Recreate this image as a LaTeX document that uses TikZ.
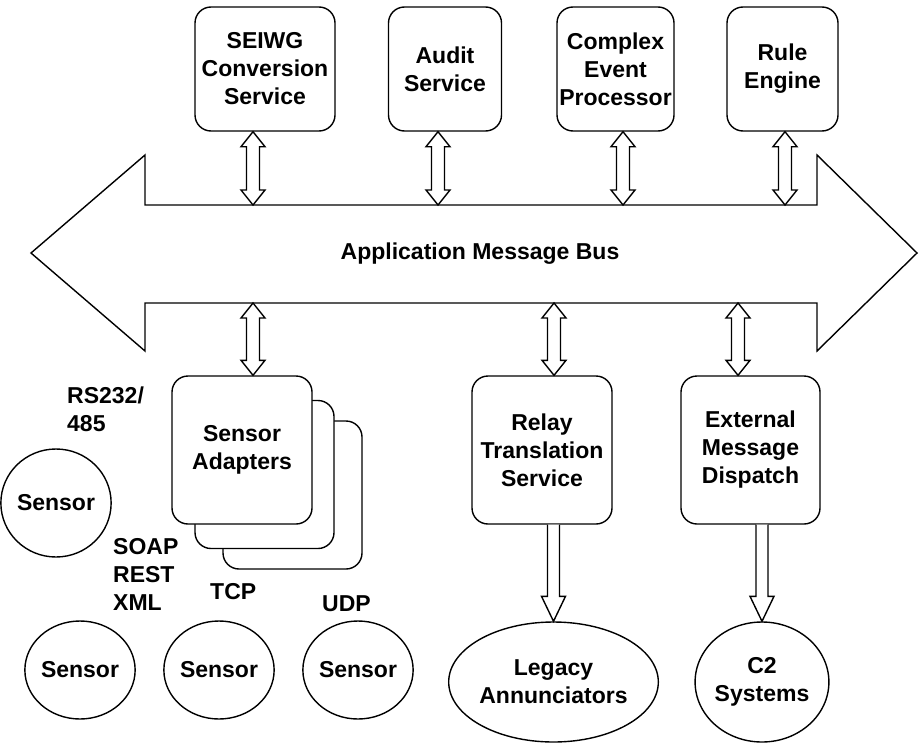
\documentclass[tikz,border=0pt]{standalone}
\usepackage{fontspec}
\setmainfont{Liberation Sans}
\usetikzlibrary{calc,shapes.geometric}
\begin{document}
\begin{tikzpicture}[x=1pt,y=-1pt,
  every node/.style={font=\fontsize{23}{28}\selectfont\bfseries},
  lw/.style={line width=1.4pt},
  box/.style={lw, draw, rounded corners=16pt, fill=white, align=center, inner sep=0pt},
  sensor/.style={lw, draw, ellipse, fill=white, align=center, inner sep=0pt},
  lbl/.style={anchor=west, align=left, inner sep=0pt},
  dblarrow/.style={lw, draw, fill=white, line join=miter, to path={
    let \p1=(\tikztostart), \p2=(\tikztotarget) in
    (\x1,\y1) -- ({\x1+12pt},{\y1-15pt}) -- ({\x1+6.5pt},{\y1-15pt})
    -- ({\x1+6.5pt},{\y2+15pt}) -- ({\x1+12pt},{\y2+15pt}) -- (\x1,\y2)
    -- ({\x1-12pt},{\y2+15pt}) -- ({\x1-6.5pt},{\y2+15pt})
    -- ({\x1-6.5pt},{\y1-15pt}) -- ({\x1-12pt},{\y1-15pt}) -- cycle}},
  sglarrow/.style={lw, draw, fill=white, line join=miter, to path={
    let \p1=(\tikztostart), \p2=(\tikztotarget) in
    ({\x1-6pt},\y1) -- ({\x1-6pt},{\y2+25pt}) -- ({\x1-12pt},{\y2+25pt})
    -- (\x1,\y2) -- ({\x1+12pt},{\y2+25pt}) -- ({\x1+6pt},{\y2+25pt})
    -- ({\x1+6pt},\y1)}}
]
\useasboundingbox (0,0) rectangle (920,744);

% bus
\draw[lw, line join=miter] (31,253) -- (145,155) -- (145,205) -- (817,205) -- (817,155)
  -- (917,253) -- (817,351) -- (817,303) -- (145,303) -- (145,351) -- cycle;
\node (bus) at (480,254) {Application Message Bus};

\coordinate (t1) at (253,205);
\coordinate (t2) at (438,205);
\coordinate (t3) at (623,205);
\coordinate (t4) at (785,205);
\coordinate (u1) at (253,303);
\coordinate (u2) at (554,303);
\coordinate (u3) at (738,303);

% top services
\node[box, minimum width=140pt, minimum height=124pt] (seiwg) at (265,69) {SEIWG\\Conversion\\Service};
\node[box, minimum width=113pt, minimum height=124pt] (audit) at (445,69) {Audit\\Service};
\node[box, minimum width=117pt, minimum height=124pt] (cep) at (615.5,69) {Complex\\Event\\Processor};
\node[box, minimum width=111pt, minimum height=124pt] (rule) at (782.5,69) {Rule\\Engine};

% sensor adapters stack
\node[box, minimum width=139pt, minimum height=148pt] (sa3) at (292.5,495) {};
\node[box, minimum width=139pt, minimum height=148pt] (sa2) at (264.5,474.5) {};
\node[box, minimum width=140pt, minimum height=148pt] (sa) at (242,450) {Sensor\\Adapters};

\node[box, minimum width=140pt, minimum height=148pt] (relay) at (542,450) {Relay\\Translation\\Service};
\node[box, minimum width=139pt, minimum height=148pt] (ext) at (750.5,450) {External\\Message\\Dispatch};

% sensors
\node[sensor, minimum width=92pt, minimum height=108pt] (s0) at (56,503) {Sensor};
\node[sensor, minimum width=94pt, minimum height=98pt] (s1) at (80,670) {Sensor};
\node[sensor, minimum width=94pt, minimum height=98pt] (s2) at (219,670) {Sensor};
\node[sensor, minimum width=93pt, minimum height=98pt] (s3) at (358,670) {Sensor};

\node[sensor, minimum width=209pt, minimum height=120pt] (legacy) at (553.5,682) {Legacy\\Annunciators};
\node[sensor, minimum width=117pt, minimum height=120pt] (c2) at (762,682) {C2\\Systems};

% protocol labels
\node[lbl] (rs) at (67,409) {RS232/\\485};
\node[lbl] (soap) at (113,574) {SOAP\\REST\\XML};
\node[lbl] (tcp) at (210,591.5) {TCP};
\node[lbl] (udp) at (322,603.5) {UDP};

% connectors
\draw[dblarrow] (t1 |- seiwg.south) to (t1);
\draw[dblarrow] (t2 |- audit.south) to (t2);
\draw[dblarrow] (t3 |- cep.south) to (t3);
\draw[dblarrow] (t4 |- rule.south) to (t4);
\draw[dblarrow] (u1) to (u1 |- sa.north);
\draw[dblarrow] (u2) to (u2 |- relay.north);
\draw[dblarrow] (u3) to (u3 |- ext.north);
\draw[sglarrow] (legacy.north |- relay.south) to (legacy.north);
\draw[sglarrow] (c2.north |- ext.south) to (c2.north);
\end{tikzpicture}
\end{document}
